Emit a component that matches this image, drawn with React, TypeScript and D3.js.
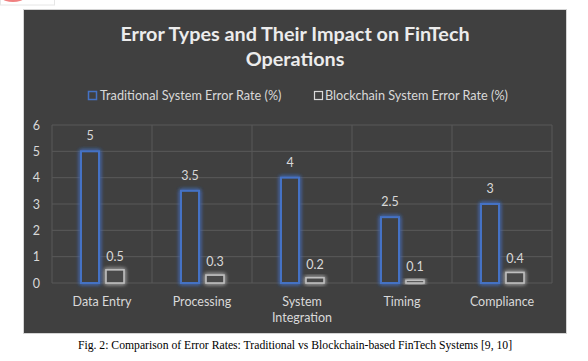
import React from 'react';
import { scaleBand, scaleLinear } from 'd3';

const categories = ['Data Entry', 'Processing', 'System Integration', 'Timing', 'Compliance'];
const traditional = [5, 3.5, 4, 2.5, 3];
const blockchain = [0.5, 0.3, 0.2, 0.1, 0.4];
const yTicks = [0, 1, 2, 3, 4, 5, 6];
const seriesNames = ['Traditional System Error Rate (%)', 'Blockchain System Error Rate (%)'];

const W = 588;
const H = 361;
const plot = { left: 52, right: 552, top: 125, bottom: 283 };
const font = 'Lato, "Open Sans", sans-serif';

const App = () => {
  const x = scaleBand().domain(categories).range([plot.left, plot.right]);
  const xs = scaleBand().domain(['t', 'b']).range([29, 72]).paddingInner(0.28);
  const y = scaleLinear().domain([0, 6]).range([plot.bottom, plot.top]);

  const rows = categories.map((c, i) => ({ c, t: traditional[i], b: blockchain[i] }));
  const bw = xs.bandwidth();

  return (
    <svg width={W} height={H} style={{ position: 'absolute', left: 0, top: 0 }}>
      <defs>
        <filter id="glow" x="-60%" y="-60%" width="220%" height="220%">
          <feGaussianBlur in="SourceGraphic" stdDeviation="2.2" result="b" />
          <feMerge>
            <feMergeNode in="b" />
            <feMergeNode in="b" />
            <feMergeNode in="SourceGraphic" />
          </feMerge>
        </filter>
      </defs>
      <rect x={0} y={0} width={W} height={H} fill="#fff" />
      {/* clipped logo at the top */}
      <rect x={0.5} y={-5} width={54} height={10} fill="#fff" stroke="#e6e6e6" />
      <ellipse cx={13} cy={-1} rx={10} ry={3} fill="#f08080" />

      <rect x={23.5} y={9.5} width={543} height={324} fill="#404040" stroke="#d4d4d4" />

      <text x={295} y={41} textAnchor="middle" fill="#ececec" fontFamily={font} fontWeight={700} fontSize={19.8}>
        Error Types and Their Impact on FinTech
      </text>
      <text x={295} y={66} textAnchor="middle" fill="#ececec" fontFamily={font} fontWeight={700} fontSize={19.8}>
        Operations
      </text>

      {/* legend */}
      <rect x={88.5} y={91.5} width={8} height={8} fill="none" stroke="#4472c4" strokeWidth={1.5} />
      <text x={100} y={99.5} fill="#d9d9d9" fontFamily={font} fontSize={12.7}>{seriesNames[0]}</text>
      <rect x={314.5} y={91.5} width={8} height={8} fill="none" stroke="#d9d9d9" strokeWidth={1.2} />
      <text x={325} y={99.5} fill="#d9d9d9" fontFamily={font} fontSize={12.7}>{seriesNames[1]}</text>

      {/* grid */}
      {yTicks.map(t => (
        <line key={'h' + t} x1={plot.left} x2={plot.right} y1={y(t)} y2={y(t)} stroke="#595959" strokeWidth={1} />
      ))}
      {[...categories.map(c => x(c) as number), plot.right].map((v, i) => (
        <line key={'v' + i} x1={v} x2={v} y1={plot.top} y2={plot.bottom} stroke="#595959" strokeWidth={1} />
      ))}
      {yTicks.map(t => (
        <text key={'yl' + t} x={40} y={y(t) + 4.5} textAnchor="end" fill="#d9d9d9" fontFamily={font} fontSize={12.5}>{t}</text>
      ))}

      {/* bars */}
      {rows.map(r => {
        const x0 = x(r.c) as number;
        const tx = x0 + (xs('t') as number);
        const bx = x0 + (xs('b') as number);
        return (
          <g key={r.c}>
            <rect x={tx} y={y(r.t)} width={bw} height={y(0) - y(r.t)} fill="#404040" stroke="#4472c4" strokeWidth={2} filter="url(#glow)" />
            <rect x={bx} y={y(r.b)} width={bw} height={y(0) - y(r.b)} fill="#4a4a4a" stroke="#bfbfbf" strokeWidth={1.6} filter="url(#glow)" />
            <text x={tx + bw / 2} y={y(r.t) - 11} textAnchor="middle" fill="#d9d9d9" fontFamily={font} fontSize={12.5}>{r.t}</text>
            <text x={bx + bw / 2} y={y(r.b) - 9} textAnchor="middle" fill="#d9d9d9" fontFamily={font} fontSize={12.5}>{r.b}</text>
          </g>
        );
      })}

      {/* category labels */}
      {categories.map(c => {
        const cx = (x(c) as number) + x.bandwidth() / 2;
        const words = c === 'System Integration' ? ['System', 'Integration'] : [c];
        return words.map((w, j) => (
          <text key={c + j} x={cx} y={306 + j * 16} textAnchor="middle" fill="#d9d9d9" fontFamily={font} fontSize={12.5}>{w}</text>
        ));
      })}

      <text x={295} y={349} textAnchor="middle" fill="#000" fontFamily='"Liberation Serif", "Times New Roman", serif' fontSize={11.7}>
        Fig. 2: Comparison of Error Rates: Traditional vs Blockchain-based FinTech Systems [9, 10]
      </text>
    </svg>
  );
};

export default App;
